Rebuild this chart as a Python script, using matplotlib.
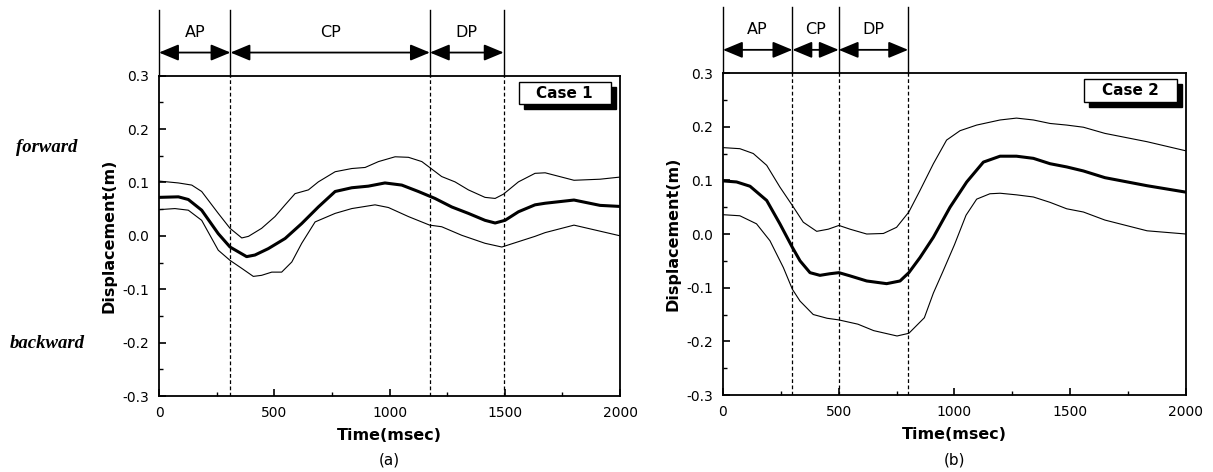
import matplotlib
matplotlib.use("Agg")
import matplotlib.pyplot as plt
from matplotlib.patches import FancyArrowPatch, Rectangle
from matplotlib.transforms import blended_transform_factory, offset_copy

plt.rcParams["font.family"] = "DejaVu Sans"
plt.rcParams["axes.unicode_minus"] = False

# Case 1
t_mean1 = [0, 84, 127, 185, 257, 308, 380, 416, 474, 547, 619, 691, 764, 836, 908, 980,
           1053, 1125, 1197, 1270, 1342, 1414, 1458, 1501, 1559, 1631, 1675, 1800, 1913, 2000]
mean1 = [0.072, 0.073, 0.068, 0.048, 0.004, -0.021, -0.039, -0.036, -0.024, -0.005, 0.023,
         0.054, 0.083, 0.090, 0.093, 0.099, 0.095, 0.083, 0.070, 0.054, 0.042, 0.029, 0.024,
         0.029, 0.045, 0.058, 0.061, 0.067, 0.057, 0.055]
t_up1 = [0, 84, 142, 185, 257, 308, 359, 388, 445, 503, 547, 590, 648, 691, 764, 836, 894,
         952, 1024, 1082, 1140, 1174, 1226, 1284, 1342, 1414, 1458, 1494, 1559, 1631, 1675,
         1800, 1913, 2000]
up1 = [0.1025, 0.099, 0.095, 0.083, 0.042, 0.014, -0.004, -0.001, 0.014, 0.036, 0.058, 0.079,
       0.086, 0.101, 0.120, 0.126, 0.128, 0.139, 0.148, 0.147, 0.139, 0.128, 0.111, 0.101,
       0.086, 0.072, 0.070, 0.078, 0.101, 0.117, 0.118, 0.104, 0.106, 0.110]
t_lo1 = [0, 69, 127, 185, 257, 308, 359, 409, 445, 489, 532, 576, 619, 677, 764, 836, 937,
         995, 1082, 1174, 1226, 1313, 1414, 1487, 1559, 1631, 1675, 1800, 1900, 2000]
lo1 = [0.049, 0.051, 0.048, 0.029, -0.027, -0.046, -0.061, -0.076, -0.074, -0.068, -0.068,
       -0.049, -0.014, 0.026, 0.042, 0.051, 0.058, 0.053, 0.036, 0.020, 0.017, 0.001, -0.014,
       -0.021, -0.011, -0.001, 0.006, 0.020, 0.010, 0.000]

# Case 2
t_mean2 = [0, 59, 117, 189, 246, 300, 333, 376, 419, 462, 501, 549, 621, 707, 765, 803, 851,
           909, 981, 1053, 1125, 1197, 1268, 1341, 1413, 1485, 1557, 1650, 1832, 2000]
mean2 = [0.099, 0.097, 0.089, 0.0625, 0.019, -0.025, -0.050, -0.072, -0.077, -0.074, -0.072,
         -0.078, -0.0875, -0.0925, -0.0875, -0.072, -0.044, -0.006, 0.050, 0.097, 0.134,
         0.145, 0.145, 0.141, 0.131, 0.125, 0.1175, 0.105, 0.090, 0.078]
t_up2 = [0, 73, 131, 189, 246, 300, 347, 405, 455, 501, 549, 621, 693, 750, 803, 851, 909,
         966, 1024, 1096, 1197, 1268, 1341, 1413, 1485, 1557, 1650, 1832, 2000]
up2 = [0.161, 0.159, 0.150, 0.128, 0.0875, 0.053, 0.022, 0.005, 0.009, 0.016, 0.009, 0.000,
       0.001, 0.0125, 0.041, 0.081, 0.131, 0.175, 0.1925, 0.203, 0.2125, 0.216, 0.2125, 0.206,
       0.203, 0.199, 0.1875, 0.172, 0.155]
t_lo2 = [0, 73, 145, 203, 261, 300, 333, 390, 450, 500, 583, 651, 752, 803, 870, 909, 950,
         1000, 1050, 1096, 1153, 1197, 1268, 1341, 1413, 1485, 1557, 1650, 1832, 2000]
lo2 = [0.036, 0.034, 0.019, -0.0125, -0.0625, -0.103, -0.125, -0.150, -0.157, -0.160, -0.168,
       -0.180, -0.190, -0.185, -0.156, -0.110, -0.070, -0.020, 0.035, 0.065, 0.075, 0.076,
       0.073, 0.069, 0.059, 0.047, 0.041, 0.026, 0.006, 0.000]

phases = ["AP", "CP", "DP"]
bounds1 = [0, 310, 1175, 1495]
bounds2 = [0, 300, 500, 800]

fig = plt.figure(figsize=(12.13, 4.72), dpi=100)
ax1 = fig.add_axes([0.1311, 0.1610, 0.3801, 0.6788])
ax2 = fig.add_axes([0.5960, 0.1631, 0.3817, 0.6822])


def draw_panel(ax, tm, m, tu, u, tl, l, bounds, case, tag):
    ax.plot(tu, u, color="black", lw=0.8)
    ax.plot(tm, m, color="black", lw=2.2)
    ax.plot(tl, l, color="black", lw=0.8)

    ax.set_xlim(0, 2000)
    ax.set_ylim(-0.3, 0.3)
    ax.set_xticks([0, 500, 1000, 1500, 2000])
    ax.set_xticks([250, 750, 1250, 1750], minor=True)
    ax.set_yticks([-0.3, -0.2, -0.1, 0.0, 0.1, 0.2, 0.3])
    ax.set_yticks([-0.25, -0.15, -0.05, 0.05, 0.15, 0.25], minor=True)
    ax.set_yticklabels(["%.1f" % v for v in ax.get_yticks()])
    ax.tick_params(which="both", direction="in", top=False, right=False, labelsize=10)
    ax.tick_params(which="major", length=5, width=1.2, pad=7)
    ax.tick_params(which="minor", length=3, width=1.0)
    for s in ax.spines.values():
        s.set_linewidth(1.3)

    ax.set_xlabel("Time(msec)", fontsize=11.5, fontweight="bold", labelpad=6)
    ax.set_ylabel("Displacement(m)", fontsize=11.5, fontweight="bold", labelpad=4)

    # phase boundaries: dashed inside, solid above the frame
    tr = blended_transform_factory(ax.transData, ax.transAxes)
    for b in bounds:
        if b > 0:
            ax.axvline(b, color="black", lw=0.9, ls=(0, (3, 2)))
        ax.plot([b, b], [1.0, 1.205], color="black", lw=1.0, transform=tr, clip_on=False)
    for i, name in enumerate(phases):
        a = FancyArrowPatch((bounds[i], 1.072), (bounds[i + 1], 1.072), transform=tr,
                            arrowstyle="<|-|>,head_length=1.2,head_width=0.5",
                            mutation_scale=10, shrinkA=0, shrinkB=0,
                            color="black", lw=1.3, clip_on=False)
        ax.add_patch(a)
        ax.text((bounds[i] + bounds[i + 1]) / 2, 1.135, name, transform=tr,
                ha="center", va="center", fontsize=11.5)

    # "Case" box with drop shadow
    shadow = offset_copy(ax.transAxes, fig=fig, x=3.5, y=-3.5, units="points")
    ax.add_patch(Rectangle((0.78, 0.91), 0.2, 0.07, transform=shadow,
                           fc="black", ec="black", zorder=5))
    ax.add_patch(Rectangle((0.78, 0.91), 0.2, 0.07, transform=ax.transAxes,
                           fc="white", ec="black", lw=1.0, zorder=6))
    ax.text(0.88, 0.945, case, transform=ax.transAxes, ha="center", va="center",
            fontsize=11, fontweight="bold", zorder=7)

    pos = ax.get_position()
    fig.text(pos.x0 + pos.width / 2, 1 - 460 / 472, tag, ha="center", va="center",
             fontsize=11)


draw_panel(ax1, t_mean1, mean1, t_up1, up1, t_lo1, lo1, bounds1, "Case 1", "(a)")
draw_panel(ax2, t_mean2, mean2, t_up2, up2, t_lo2, lo2, bounds2, "Case 2", "(b)")

fig.text(47 / 1213, 1 - 147 / 472, "forward", ha="center", va="center",
         family="Liberation Serif", style="italic", fontweight="bold", fontsize=13.5)
fig.text(47 / 1213, 1 - 343 / 472, "backward", ha="center", va="center",
         family="Liberation Serif", style="italic", fontweight="bold", fontsize=13.5)

fig.savefig("out.png", dpi=100)
